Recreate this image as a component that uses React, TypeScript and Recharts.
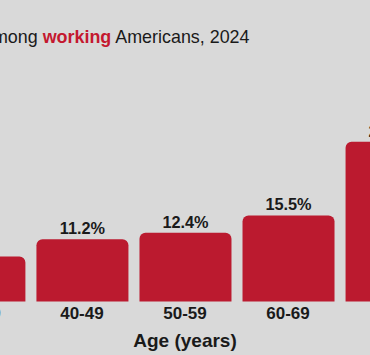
import React from 'react';
import { BarChart, Bar, XAxis, YAxis, LabelList } from 'recharts';

const categories: string[] = ['30-39', '40-49', '50-59', '60-69', '70+'];
const shares: number[] = [8.1, 11.2, 12.4, 15.5, 28.8];
const titleParts = { before: 'among ', highlight: 'working', after: ' Americans, 2024' };
const axisTitle = 'Age (years)';

const data = categories.map((c, i) => ({ age: c, share: shares[i] }));

const FONT = '"Liberation Sans", Arial, Helvetica, sans-serif';
const RED = '#bb1a2f';
const BG = '#d9d9d9';
const INK = '#1a1a1a';

export default function App() {
  return (
    <div
      style={{
        position: 'fixed',
        left: 0,
        top: 0,
        width: 370,
        height: 355,
        overflow: 'hidden',
        background: BG,
        fontFamily: FONT,
      }}
    >
      <div
        style={{
          position: 'absolute',
          left: -17,
          top: 29,
          fontSize: 17.9,
          lineHeight: 1,
          whiteSpace: 'nowrap',
          color: INK,
        }}
      >
        {titleParts.before}
        <span style={{ color: '#c4182f', fontWeight: 'bold' }}>{titleParts.highlight}</span>
        {titleParts.after}
      </div>
      <div style={{ position: 'absolute', left: -100, top: 0 }}>
        <BarChart
          width={570}
          height={355}
          data={data}
          margin={{ top: 135, right: 27.4, left: 27.4, bottom: 23.5 }}
        >
          <YAxis hide domain={[0, 30]} />
          <XAxis
            dataKey="age"
            height={30}
            axisLine={false}
            tickLine={false}
            tickSize={0}
            tickMargin={5}
            tick={{ fill: INK, fontSize: 17, fontWeight: 'bold', fontFamily: FONT }}
            label={{
              value: axisTitle,
              position: 'bottom',
              offset: 2.5,
              fill: INK,
              fontSize: 19,
              fontWeight: 'bold',
              fontFamily: FONT,
            }}
          />
          <Bar dataKey="share" fill={RED} barSize={92} radius={[6, 6, 0, 0]} isAnimationActive={false}>
            <LabelList
              dataKey="share"
              position="top"
              offset={5}
              formatter={(v: any) => `${Number(v).toFixed(1)}%`}
              style={{ fill: INK, fontSize: 16.3, fontWeight: 'bold', fontFamily: FONT }}
            />
          </Bar>
        </BarChart>
      </div>
    </div>
  );
}
